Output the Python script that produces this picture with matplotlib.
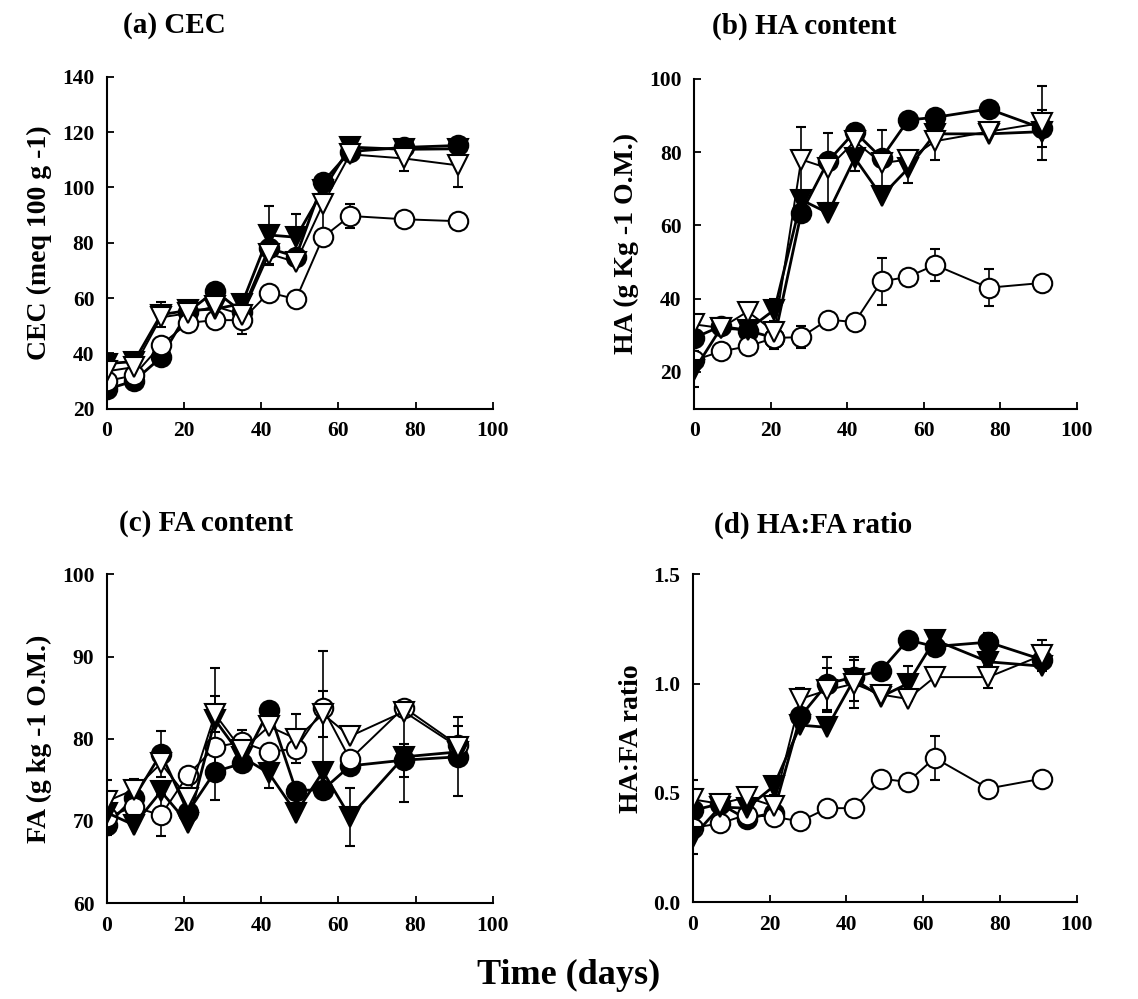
import matplotlib
matplotlib.use("Agg")
import matplotlib.pyplot as plt

plt.rcParams['font.family'] = ['Liberation Serif', 'DejaVu Serif']
plt.rcParams['font.weight'] = 'bold'

# sampling days
days = [0, 7, 14, 21, 28, 35, 42, 49, 56, 63, 77, 91]

# (a) CEC, meq 100 g-1
cec_fc = [27, 30, 38.5, 55, 62.5, 55, 78, 75, 102, 113, 114.5, 115.2]
cec_oc = [30, 32, 43, 51, 52, 52, 62, 59.6, 82, 89.7, 88.5, 87.8]
cec_ft = [36.3, 37, 54, 55.5, 56, 58, 82.8, 82, 99, 114.6, 113.8, 114]
cec_ot = [33.5, 35, 53, 54.5, 57, 54, 76, 73, 94, 112, 110.5, 108]
cec_fc_err = [0, 0, 0, 0, 0, 0, 0, 0, 0, 0, 0, 0]
cec_oc_err = [0, 0, 0, 0, 0, 5, 0, 0, 0, 4.5, 0, 0]
cec_ft_err = [0, 0, 4.5, 0, 0, 0, 10.5, 8.5, 0, 0, 0, 0]
cec_ot_err = [0, 0, 0, 0, 0, 0, 4, 0, 10, 0, 4.5, 8]

# (b) HA, g kg-1 O.M.
ha_fc = [29.3, 32.5, 31.3, 29.3, 63.4, 77.5, 85.6, 78.4, 88.8, 89.5, 91.8, 86.5]
ha_oc = [23.2, 25.6, 27, 29.3, 29.5, 34.3, 33.6, 44.7, 46, 49.2, 43, 44.3]
ha_ft = [20.5, 32, 31.5, 37, 67, 63.4, 78.4, 68, 75.6, 85, 85, 85.6]
ha_ot = [33, 32, 36.5, 31, 78, 75.6, 83, 77, 78, 83, 85.6, 88]
ha_fc_err = [0, 0, 0, 3, 0, 0, 2, 0, 0, 0, 0, 5]
ha_oc_err = [2.5, 0, 0, 0, 3, 0, 0, 6.5, 0, 4.5, 5, 2]
ha_ft_err = [4.5, 0, 0, 3, 0, 0, 3.5, 0, 4, 0, 0, 0]
ha_ot_err = [0, 0, 0, 0, 9, 9.5, 0, 9, 0, 5, 0, 10]

# (c) FA, g kg-1 O.M.
fa_fc = [69.5, 72.8, 78.2, 71.1, 76, 77, 83.5, 73.7, 73.8, 76.7, 77.4, 77.8]
fa_oc = [70.5, 71.7, 70.7, 75.6, 79, 79.6, 78.4, 78.8, 83.7, 77.5, 83.8, 79.2]
fa_ft = [71, 69.5, 73.6, 69.7, 82.3, 77.8, 75.8, 71, 76, 70.5, 77.8, 78.4]
fa_ot = [72.4, 73.8, 77, 72.8, 83, 78.6, 81.5, 80, 83, 80.3, 83.3, 79]
fa_fc_err = [1.2, 0, 2.8, 0, 3.5, 0, 0, 0, 0, 0, 2, 4.8]
fa_oc_err = [0, 0, 2.5, 0, 0, 1.5, 0, 0, 7, 0, 0, 2.3]
fa_ft_err = [0, 0, 0, 0, 6.3, 0, 1.8, 0, 0, 3.5, 5.5, 0]
fa_ot_err = [2.6, 1.3, 0, 0, 2.2, 0, 0, 3, 2.8, 0, 0, 0]

# (d) HA:FA ratio
ratio_fc = [0.42, 0.45, 0.38, 0.41, 0.85, 1.0, 1.03, 1.06, 1.2, 1.17, 1.19, 1.11]
ratio_oc = [0.34, 0.36, 0.40, 0.39, 0.37, 0.43, 0.43, 0.565, 0.55, 0.66, 0.52, 0.565]
ratio_ft = [0.30, 0.435, 0.43, 0.53, 0.81, 0.80, 1.02, 0.94, 1.0, 1.2, 1.10, 1.08]
ratio_ot = [0.47, 0.45, 0.48, 0.44, 0.93, 0.97, 1.0, 0.95, 0.93, 1.03, 1.03, 1.13]
ratio_fc_err = [0, 0, 0, 0, 0, 0.12, 0, 0, 0, 0, 0.04, 0]
ratio_oc_err = [0, 0, 0, 0, 0, 0, 0, 0, 0, 0.1, 0, 0]
ratio_ft_err = [0.08, 0, 0, 0.04, 0, 0, 0.1, 0, 0.08, 0, 0, 0]
ratio_ot_err = [0.09, 0, 0, 0, 0.05, 0.1, 0.11, 0, 0, 0, 0.05, 0.07]

# marker, face colour, line width for each treatment
styles = [('o', 'black', 2.0), ('o', 'white', 1.4), ('v', 'black', 2.0), ('v', 'white', 1.4)]


def draw_panel(ax, series, errors, ylim, yticks, ylabel, ticklabels=None):
    for (m, fc, lw), vals, err in zip(styles, series, errors):
        ax.errorbar(days, vals, yerr=err, fmt='-', color='black', lw=lw,
                    marker=m, ms=14, mfc=fc, mec='black', mew=1.5,
                    ecolor='black', elinewidth=1.2, capsize=3.5, capthick=1.2)
    ax.set_xlim(0, 100)
    ax.set_ylim(*ylim)
    ax.set_xticks([0, 20, 40, 60, 80, 100])
    ax.set_yticks(yticks)
    if ticklabels is not None:
        ax.set_yticklabels(ticklabels)
    for s in ['top', 'right']:
        ax.spines[s].set_visible(False)
    for s in ['left', 'bottom']:
        ax.spines[s].set_linewidth(1.5)
    ax.tick_params(direction='in', length=5, width=1.3, labelsize=15.5, pad=9)
    for lab in ax.get_xticklabels() + ax.get_yticklabels():
        lab.set_fontweight('bold')
    ax.set_ylabel(ylabel, fontsize=20, fontweight='bold', labelpad=7)


fig = plt.figure(figsize=(11.38, 9.99), dpi=100)

ax_a = fig.add_axes([0.094, 0.591, 0.339, 0.332])
ax_b = fig.add_axes([0.610, 0.591, 0.336, 0.330])
ax_c = fig.add_axes([0.094, 0.096, 0.339, 0.329])
ax_d = fig.add_axes([0.609, 0.097, 0.337, 0.328])

draw_panel(ax_a, [cec_fc, cec_oc, cec_ft, cec_ot],
           [cec_fc_err, cec_oc_err, cec_ft_err, cec_ot_err],
           (20, 140), range(20, 141, 20), 'CEC (meq 100 g -1)')
draw_panel(ax_b, [ha_fc, ha_oc, ha_ft, ha_ot],
           [ha_fc_err, ha_oc_err, ha_ft_err, ha_ot_err],
           (10, 100), range(20, 101, 20), 'HA (g Kg -1 O.M.)')
draw_panel(ax_c, [fa_fc, fa_oc, fa_ft, fa_ot],
           [fa_fc_err, fa_oc_err, fa_ft_err, fa_ot_err],
           (60, 100), range(60, 101, 10), 'FA (g kg -1 O.M.)')
draw_panel(ax_d, [ratio_fc, ratio_oc, ratio_ft, ratio_ot],
           [ratio_fc_err, ratio_oc_err, ratio_ft_err, ratio_ot_err],
           (0, 1.5), [0, 0.5, 1.0, 1.5], 'HA:FA ratio',
           ['0.0', '0.5', '1.0', '1.5'])

fig.text(0.108, 0.974, '(a) CEC', fontsize=21, fontweight='bold', va='center')
fig.text(0.626, 0.974, '(b) HA content', fontsize=21, fontweight='bold', va='center')
fig.text(0.105, 0.476, '(c) FA content', fontsize=21, fontweight='bold', va='center')
fig.text(0.627, 0.474, '(d) HA:FA ratio', fontsize=21, fontweight='bold', va='center')
fig.text(0.5, 0.024, 'Time (days)', fontsize=26, fontweight='bold', ha='center', va='center')

fig.savefig('out.png', dpi=100)
